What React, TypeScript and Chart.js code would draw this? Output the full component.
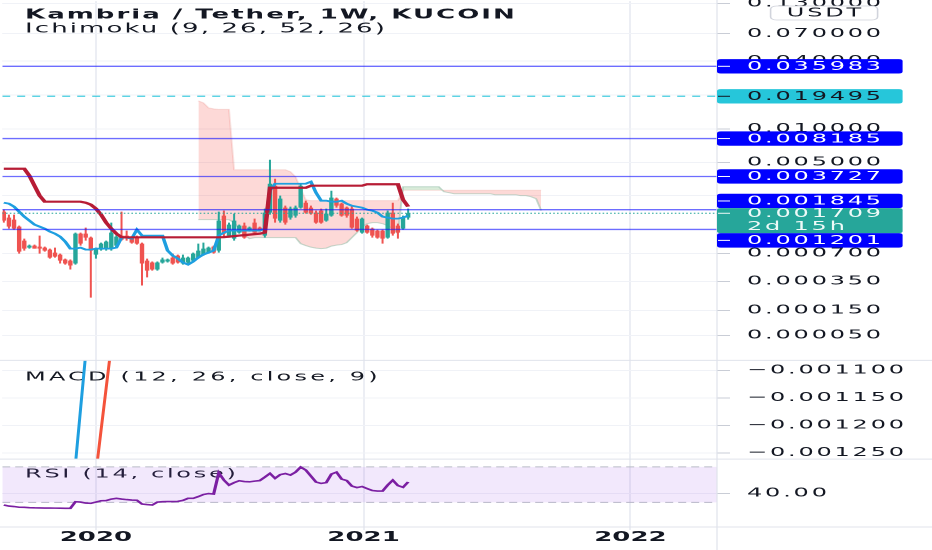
import { useEffect, useRef } from "react";
import { Chart, registerables } from "chart.js";

Chart.register(...registerables);

// TradingView style log axis: log10(price + offset)
const LOG_OFFSET = 0.0001;
const tv = (p: number) => Math.log10(p + LOG_OFFSET);

const FONT = "'DejaVu Sans', sans-serif";
const TEXT = "#131722";
const UP = "#26a69a";
const DOWN = "#ef5350";
const GRID = "#f0f2f7";
const SEPARATOR = "#e0e3eb";
const LEVEL_BLUE = "#0000ff";
const CYAN = "#26c6da";

// weekly bars, x in days since 2020-01-01
const FIRST_BAR_DAY = -126;
const X_MIN = -128.2;
const X_MAX = 849.4;
const dayOf = (i: number) => FIRST_BAR_DAY + i * 7;

const OPEN = [
  0.001769, 0.001555, 0.001489, 0.001278, 0.000937, 0.000799, 0.000837, 0.000818, 0.000799, 0.000763,
  0.000712, 0.00068, 0.000605, 0.00059, 0.00055, 0.001095, 0.001095, 0.001002, 0.00068, 0.000763,
  0.000781, 0.000781, 0.000837, 0.001048, 0.001048, 0.001002, 0.001024, 0.000875, 0.00059, 0.000563,
  0.000475, 0.000563, 0.000577, 0.000634, 0.000664, 0.00055, 0.000563, 0.00059, 0.000634, 0.00068,
  0.000712, 0.000818, 0.000746, 0.001623, 0.001048, 0.00098, 0.00112, 0.001306, 0.00117, 0.001395,
  0.00125, 0.001048, 0.001732, 0.003071, 0.001457, 0.001928, 0.001555, 0.001623, 0.001928, 0.002144,
  0.001928, 0.001732, 0.001808, 0.001457, 0.001623, 0.002335, 0.002099, 0.001928, 0.001887, 0.001521,
  0.00112, 0.001306, 0.001223, 0.00117, 0.00117, 0.001002, 0.001732, 0.001306, 0.001223, 0.001555,
];
const HIGH = [
  0.001847, 0.001659, 0.001659, 0.001306, 0.00098, 0.000856, 0.000856, 0.001048, 0.000818, 0.000781,
  0.000799, 0.000696, 0.000619, 0.000605, 0.00112, 0.00112, 0.00125, 0.001024, 0.000799, 0.000895,
  0.000937, 0.001395, 0.001071, 0.001769, 0.00117, 0.001024, 0.001048, 0.000895, 0.000619, 0.000577,
  0.000577, 0.000634, 0.000619, 0.000696, 0.00068, 0.00068, 0.000649, 0.000712, 0.000875, 0.000895,
  0.000818, 0.000837, 0.001769, 0.001808, 0.001395, 0.001695, 0.001335, 0.001395, 0.001278, 0.001521,
  0.001278, 0.001887, 0.005279, 0.003555, 0.002488, 0.002012, 0.001969, 0.002012, 0.003202, 0.002238,
  0.002012, 0.001808, 0.001887, 0.001887, 0.002765, 0.002385, 0.002144, 0.001969, 0.002012, 0.001589,
  0.001555, 0.001335, 0.00125, 0.001196, 0.001196, 0.001808, 0.002144, 0.001365, 0.001623, 0.001887,
];
const LOW = [
  0.001395, 0.001223, 0.001196, 0.000696, 0.000746, 0.000781, 0.000781, 0.000696, 0.000729, 0.000619,
  0.000634, 0.00055, 0.000536, 0.000475, 0.000536, 0.000837, 0.000937, 0.000225, 0.000619, 0.000746,
  0.000746, 0.000746, 0.000818, 0.000937, 0.000937, 0.000875, 0.000856, 0.000316, 0.00039, 0.000463,
  0.000463, 0.00055, 0.000563, 0.000536, 0.00055, 0.000536, 0.00055, 0.000577, 0.000619, 0.000664,
  0.000696, 0.000696, 0.000712, 0.001002, 0.001002, 0.000937, 0.001095, 0.00098, 0.001145, 0.001095,
  0.001145, 0.001002, 0.001659, 0.001395, 0.001395, 0.001335, 0.001489, 0.001555, 0.001887, 0.001695,
  0.001659, 0.001365, 0.001365, 0.001425, 0.001589, 0.001928, 0.001589, 0.001555, 0.001223, 0.001145,
  0.001095, 0.001095, 0.001002, 0.00098, 0.000875, 0.00098, 0.001048, 0.00098, 0.001196, 0.001489,
];
const CLOSE = [
  0.001457, 0.001278, 0.001223, 0.000729, 0.000781, 0.000837, 0.000781, 0.000781, 0.000746, 0.000634,
  0.000649, 0.00059, 0.00055, 0.000524, 0.001095, 0.000875, 0.001002, 0.000746, 0.000781, 0.000875,
  0.000916, 0.00112, 0.001024, 0.000958, 0.00098, 0.000895, 0.000875, 0.00055, 0.000463, 0.000475,
  0.000563, 0.000605, 0.000605, 0.00055, 0.000563, 0.000634, 0.000634, 0.000696, 0.000746, 0.000781,
  0.000799, 0.000712, 0.001457, 0.001095, 0.001335, 0.001457, 0.001306, 0.001002, 0.00125, 0.00112,
  0.00117, 0.001732, 0.003202, 0.001521, 0.002335, 0.001395, 0.001887, 0.001928, 0.003071, 0.001732,
  0.001695, 0.001395, 0.001395, 0.001695, 0.002385, 0.002012, 0.001623, 0.001623, 0.00125, 0.00117,
  0.001521, 0.00112, 0.001048, 0.001002, 0.00098, 0.001732, 0.001095, 0.00112, 0.001555, 0.001709,
];

// Ichimoku
const TENKAN = [
  0.002144, 0.002099, 0.001969, 0.001769, 0.001589, 0.001457, 0.001335, 0.001278, 0.001223, 0.001145,
  0.001095, 0.001024, 0.000916, 0.000781, 0.000781, 0.000799, 0.000763, 0.000763, 0.000781, 0.000781,
  0.000781, 0.000781, 0.000799, 0.001002, 0.001002, 0.00098, 0.001196, 0.001048, 0.001048, 0.001048,
  0.001048, 0.001048, 0.000746, 0.000664, 0.000619, 0.000563, 0.000536, 0.000577, 0.000634, 0.00068,
  0.000712, 0.000746, 0.001048, 0.00112, 0.00117, 0.00117, 0.00117, 0.00117, 0.00117, 0.00117,
  0.00117, 0.001223, 0.002765, 0.003202, 0.003202, 0.003202, 0.003202, 0.003202, 0.003202, 0.003202,
  0.003339, 0.00265, 0.002238, 0.002238, 0.002191, 0.002191, 0.002238, 0.002099, 0.002012, 0.001969,
  0.001928, 0.001847, 0.001808, 0.001732, 0.001589, 0.001555, 0.001521, 0.001521, 0.001555, 0.001623,
];
const KIJUN = [
  0.00438, 0.00438, 0.00438, 0.00438, 0.00438, 0.003786, 0.003071, 0.002488, 0.002191, 0.002191,
  0.002191, 0.002191, 0.002191, 0.002191, 0.002191, 0.002191, 0.002144, 0.002055, 0.001887, 0.001659,
  0.001395, 0.001223, 0.001095, 0.001013, 0.001009, 0.001009, 0.001009, 0.001009, 0.001009, 0.001009,
  0.001009, 0.001009, 0.001009, 0.001009, 0.001009, 0.001009, 0.001009, 0.001009, 0.001009, 0.001009,
  0.001009, 0.001009, 0.001009, 0.001013, 0.001024, 0.001036, 0.001048, 0.001059, 0.001071, 0.001083,
  0.001095, 0.00112, 0.002944, 0.002944, 0.002944, 0.002944, 0.002944, 0.002944, 0.002944, 0.002944,
  0.003071, 0.003071, 0.003071, 0.003071, 0.003071, 0.003071, 0.003071, 0.003071, 0.003071, 0.003071,
  0.003071, 0.003169, 0.003169, 0.003169, 0.003169, 0.003169, 0.003169, 0.003169, 0.002286, 0.001969,
];
// leading spans, shifted 26 bars ahead; first value sits on bar 38
const SPAN_START = 38;
const SPAN_A = [
  0.001489, 0.001489, 0.001489, 0.001489, 0.001489, 0.001489, 0.001489, 0.001395, 0.001223, 0.001071,
  0.00098, 0.001002, 0.001002, 0.001002, 0.001002, 0.001002, 0.001002, 0.001002, 0.001002, 0.001002,
  0.000875, 0.000837, 0.000808, 0.00079, 0.000781, 0.00079, 0.000827, 0.000846, 0.000856, 0.000895,
  0.001002, 0.00112, 0.001278, 0.001365, 0.001395, 0.001395, 0.001365, 0.001306, 0.001223, 0.001095,
  0.003007, 0.003007, 0.003007, 0.003007, 0.003007, 0.003007, 0.003007, 0.003007, 0.002707, 0.00265,
  0.002595, 0.002595, 0.002595, 0.002595, 0.002595, 0.002595, 0.002595, 0.002595, 0.002541, 0.002541,
  0.002541, 0.002541, 0.002541, 0.002488, 0.002488, 0.002436, 0.002335, 0.001808,
];
const SPAN_B = [
  0.017743, 0.017033, 0.015377, 0.015065, 0.014912, 0.014912, 0.014912, 0.004289, 0.004289, 0.004289,
  0.004289, 0.004289, 0.004289, 0.004289, 0.004289, 0.004289, 0.004289, 0.004289, 0.004115, 0.003707,
  0.002883, 0.002286, 0.002238, 0.002238, 0.002238, 0.002238, 0.002238, 0.002238, 0.002238, 0.002238,
  0.002238, 0.002238, 0.002238, 0.002238, 0.002238, 0.002238, 0.002238, 0.002238, 0.002238, 0.002238,
  0.002794, 0.002794, 0.002794, 0.002794, 0.002794, 0.002794, 0.002794, 0.002794, 0.002794, 0.002794,
  0.002794, 0.002794, 0.002794, 0.002794, 0.002794, 0.002794, 0.002794, 0.002794, 0.002794, 0.002794,
  0.002794, 0.002794, 0.002794, 0.002794, 0.002794, 0.002794, 0.002794, 0.002794,
];

// MACD pane: only the stretch that crosses the visible range
const MACD_START = 11;
const MACD = [-0.00155, -0.00146, -0.00137, -0.00127, -0.00117, -0.00107, -0.00097, -0.00088, -0.0008];
const SIGNAL_START = 16;
const SIGNAL = [-0.00145, -0.00137, -0.001287, -0.001209, -0.001132, -0.001055, -0.00098, -0.00091];

const RSI = [
  27.0, 25.8, 25.3, 24.5, 24.4, 24.0, 23.8, 23.7, 23.6, 23.6,
  23.5, 23.4, 23.3, 23.3, 30.7, 30.3, 29.2, 28.9, 30.3, 31.8,
  32.0, 33.7, 34.5, 33.7, 33.1, 32.6, 32.4, 28.1, 27.5, 27.0,
  30.3, 30.7, 30.9, 30.9, 31.1, 32.2, 34.5, 34.5, 36.5, 38.8,
  39.9, 39.3, 63.3, 55.1, 49.4, 52.2, 54.3, 53.4, 53.1, 53.9,
  54.5, 58.4, 62.6, 57.0, 61.2, 62.4, 60.7, 64.0, 69.7, 66.3,
  59.6, 52.8, 51.3, 52.2, 61.8, 64.0, 56.2, 54.5, 48.3, 46.6,
  47.8, 45.5, 43.3, 42.7, 42.7, 49.4, 55.0, 48.9, 46.9, 53.0,
];
const RSI_UPPER = 70;
const RSI_LOWER = 30;

// drawn price levels
const LEVELS = [0.035983, 0.008185, 0.003727, 0.001845, 0.001201];
const DASHED_LEVEL = 0.019495;
const LAST_PRICE = 0.001709;
const COUNTDOWN = "2d 15h";

// axes
const PRICE_TICKS = [0.13, 0.07, 0.04, 0.02, 0.01, 0.005, 0.0025, 0.0007, 0.00035, 0.00015, 0.00005];
const PRICE_TICK_LABELS = ["0.130000", "0.070000", "0.040000", "", "0.010000", "0.005000", "", "0.000700", "0.000350", "0.000150", "0.000050"];
const MACD_TICKS = [-0.0011, -0.00115, -0.0012, -0.00125];
const RSI_TICKS = [40];
const YEAR_TICKS = [0, 366, 731];
const YEAR_LABELS = ["2020", "2021", "2022"];

const TITLE = "Kambria / Tether, 1W, KUCOIN";
const ICHI_LABEL = "Ichimoku (9, 26, 52, 26)";
const MACD_LABEL = "MACD (12, 26, close, 9)";
const RSI_LABEL = "RSI (14, close)";

const AXIS_W = 107.5;
const TAG_W = 92.8;
const TAG_H = 14.4;
const LABEL_X = 373.5;

const spacing = (ctx: any, px: number) => {
  ctx.letterSpacing = `${px}px`;
};

const spacedLabels = {
  id: "spacedLabels",
  afterLayout(chart: any) {
    for (const id of ["yMain", "yMacd", "yRsi"]) {
      const s = chart.scales[id];
      if (!s || s._spaced) continue;
      const orig = s.drawLabels.bind(s);
      s.drawLabels = (area: any) => {
        s.ctx.save();
        spacing(s.ctx, 1.4);
        orig(area);
        s.ctx.restore();
      };
      s._spaced = true;
    }
  },
};

const paneClip = {
  id: "paneClip",
  beforeDatasetDraw(chart: any, args: any) {
    const y = chart.scales[args.meta.yAxisID];
    const { ctx, chartArea } = chart;
    ctx.save();
    ctx.beginPath();
    ctx.rect(chartArea.left, y.top, chartArea.right - chartArea.left, y.bottom - y.top);
    ctx.clip();
  },
  afterDatasetDraw(chart: any) {
    chart.ctx.restore();
  },
};

const paneLabels = {
  id: "paneLabels",
  beforeDatasetsDraw(chart: any) {
    const { ctx } = chart;
    const macd = chart.scales.yMacd;
    const rsi = chart.scales.yRsi;
    ctx.save();
    ctx.fillStyle = TEXT;
    ctx.textBaseline = "alphabetic";
    ctx.textAlign = "left";
    ctx.font = `bold 13px ${FONT}`;
    spacing(ctx, 1.0);
    ctx.fillText(TITLE, 12.5, 18.3);
    ctx.font = `13px ${FONT}`;
    spacing(ctx, 1.05);
    ctx.fillText(ICHI_LABEL, 12.5, 32.3);
    ctx.font = `12px ${FONT}`;
    spacing(ctx, 1.6);
    ctx.fillText(MACD_LABEL, 12.5, macd.top + 20);
    spacing(ctx, 1.35);
    ctx.fillText(RSI_LABEL, 12.5, rsi.top + 18.3);
    ctx.restore();
  },
};

const axisTags = {
  id: "axisTags",
  afterDraw(chart: any) {
    const { ctx, chartArea, width, height } = chart;
    const yMain = chart.scales.yMain;
    const panes = [chart.scales.yMain, chart.scales.yMacd, chart.scales.yRsi];
    ctx.save();

    // pane separators and price axis line
    ctx.strokeStyle = SEPARATOR;
    ctx.lineWidth = 1;
    ctx.beginPath();
    for (const p of panes) {
      ctx.moveTo(0, p.bottom);
      ctx.lineTo(width, p.bottom);
    }
    ctx.stroke();
    ctx.lineWidth = 0.6;
    ctx.beginPath();
    ctx.moveTo(chartArea.right, 0);
    ctx.lineTo(chartArea.right, height);
    ctx.stroke();

    // currency button
    ctx.fillStyle = "#ffffff";
    ctx.strokeStyle = "#d1d4dc";
    ctx.lineWidth = 0.8;
    ctx.beginPath();
    ctx.roundRect(385.3, 6, 53.5, 14, 3);
    ctx.fill();
    ctx.stroke();
    ctx.fillStyle = TEXT;
    ctx.font = `12px ${FONT}`;
    ctx.textBaseline = "middle";
    ctx.textAlign = "center";
    spacing(ctx, 1.4);
    ctx.fillText("USDT", 412.7, 13.5);
    ctx.textAlign = "left";

    const x0 = chartArea.right;
    const lastY = yMain.getPixelForValue(tv(LAST_PRICE));
    const curTop = lastY - 5.1;
    const curBottom = curTop + 25;

    const items = [
      ...LEVELS.map((p) => ({ price: p, bg: LEVEL_BLUE, fg: "#ffffff" })),
      { price: DASHED_LEVEL, bg: CYAN, fg: TEXT },
    ]
      .map((t) => ({ ...t, y: yMain.getPixelForValue(tv(t.price)) }))
      .sort((a, b) => a.y - b.y);

    let limit = curTop;
    for (const t of items.filter((t) => t.y <= lastY).reverse()) {
      t.y = Math.min(t.y, limit - TAG_H / 2);
      limit = t.y - TAG_H / 2;
    }
    limit = curBottom;
    for (const t of items.filter((t) => t.y > lastY)) {
      t.y = Math.max(t.y, limit + TAG_H / 2);
      limit = t.y + TAG_H / 2;
    }

    const drawTag = (top: number, h: number, markY: number, bg: string, fg: string, lines: string[]) => {
      ctx.fillStyle = bg;
      ctx.beginPath();
      ctx.roundRect(x0, top, TAG_W, h, 2);
      ctx.fill();
      ctx.strokeStyle = fg;
      ctx.lineWidth = 1;
      ctx.beginPath();
      ctx.moveTo(x0 + 0.5, markY);
      ctx.lineTo(x0 + 6.5, markY);
      ctx.stroke();
      ctx.fillStyle = fg;
      lines.forEach((s, k) => ctx.fillText(s, LABEL_X, markY + 0.6 + k * 13));
    };

    for (const t of items) {
      drawTag(t.y - TAG_H / 2, TAG_H, t.y, t.bg, t.fg, [t.price.toFixed(6)]);
    }
    drawTag(curTop, curBottom - curTop, lastY, UP, "#eefaf8", [LAST_PRICE.toFixed(6), COUNTDOWN]);

    ctx.restore();
  },
};

const flat = (price: number) => [
  { x: X_MIN, y: tv(price) },
  { x: X_MAX, y: tv(price) },
];

export default function App() {
  const canvasRef = useRef<HTMLCanvasElement | null>(null);
  const chartRef = useRef<Chart | null>(null);

  useEffect(() => {
    if (!canvasRef.current) return;
    if (chartRef.current) chartRef.current.destroy();

    Chart.defaults.font.family = FONT;

    const candleColors = OPEN.map((o, i) => (CLOSE[i] >= o ? UP : DOWN));
    const line = (extra: any) => ({
      type: "line",
      pointRadius: 0,
      tension: 0,
      fill: false,
      ...extra,
    });

    const datasets: any[] = [
      ...LEVELS.map((p) =>
        line({ data: flat(p), borderColor: "rgba(20,20,255,0.62)", borderWidth: 1.3, yAxisID: "yMain", order: 0 })
      ),
      line({ data: flat(DASHED_LEVEL), borderColor: "rgba(38,198,218,0.85)", borderWidth: 1.2, borderDash: [4, 3.5], yAxisID: "yMain", order: 0 }),
      line({ data: flat(LAST_PRICE), borderColor: UP, borderWidth: 1, borderDash: [0.8, 1.1], yAxisID: "yMain", order: 1 }),
      line({
        data: KIJUN.map((v, i) => ({ x: dayOf(i), y: tv(v) })),
        borderColor: "#b71c35",
        borderWidth: 2.2,
        yAxisID: "yMain",
        order: 2,
      }),
      line({
        data: TENKAN.map((v, i) => ({ x: dayOf(i), y: tv(v) })),
        borderColor: "#1e9fe0",
        borderWidth: 1.8,
        yAxisID: "yMain",
        order: 3,
      }),
      {
        type: "bar",
        data: OPEN.map((o, i) => ({ x: dayOf(i), y: [tv(o), tv(CLOSE[i])] })),
        backgroundColor: candleColors,
        barThickness: 2.2,
        minBarLength: 1,
        grouped: false,
        inflateAmount: 0,
        borderWidth: 0,
        yAxisID: "yMain",
        order: 4,
      },
      {
        type: "bar",
        data: LOW.map((l, i) => ({ x: dayOf(i), y: [tv(l), tv(HIGH[i])] })),
        backgroundColor: candleColors,
        barThickness: 1,
        grouped: false,
        inflateAmount: 0,
        borderWidth: 0,
        yAxisID: "yMain",
        order: 5,
      },
      line({
        data: SPAN_A.map((v, k) => ({ x: dayOf(SPAN_START + k), y: tv(v) })),
        borderColor: "rgba(150,190,170,0.55)",
        borderWidth: 1,
        fill: { target: "+1", above: "rgba(67,160,71,0.2)", below: "rgba(244,67,54,0.2)" },
        yAxisID: "yMain",
        order: 6,
      }),
      line({
        data: SPAN_B.map((v, k) => ({ x: dayOf(SPAN_START + k), y: tv(v) })),
        borderColor: "rgba(244,143,143,0.25)",
        borderWidth: 1,
        yAxisID: "yMain",
        order: 7,
      }),
      line({
        data: MACD.map((v, k) => ({ x: dayOf(MACD_START + k), y: v })),
        borderColor: "#1e9fe0",
        borderWidth: 1.5,
        yAxisID: "yMacd",
        order: 2,
      }),
      line({
        data: SIGNAL.map((v, k) => ({ x: dayOf(SIGNAL_START + k), y: v })),
        borderColor: "#f4533b",
        borderWidth: 1.5,
        yAxisID: "yMacd",
        order: 2,
      }),
      line({
        data: RSI.map((v, i) => ({ x: dayOf(i), y: v })),
        borderColor: "#7b1fa2",
        borderWidth: 1.6,
        yAxisID: "yRsi",
        order: 2,
      }),
      line({
        data: [
          { x: X_MIN, y: RSI_UPPER },
          { x: X_MAX, y: RSI_UPPER },
        ],
        borderColor: "#b9bcc6",
        borderWidth: 1,
        borderDash: [4, 2.5],
        backgroundColor: "rgba(155,80,230,0.13)",
        fill: "+1",
        yAxisID: "yRsi",
        order: 8,
      }),
      line({
        data: [
          { x: X_MIN, y: RSI_LOWER },
          { x: X_MAX, y: RSI_LOWER },
        ],
        borderColor: "#b9bcc6",
        borderWidth: 1,
        borderDash: [4, 2.5],
        yAxisID: "yRsi",
        order: 8,
      }),
    ];

    const tickFont = { family: FONT, size: 12 };
    const yAxis = (extra: any) => ({
      type: "linear",
      position: "right",
      stack: "panes",
      offset: false,
      beginAtZero: false,
      grid: { color: GRID, tickLength: 6.5, tickColor: "#c9cdd6" },
      border: { display: false },
      afterFit: (s: any) => {
        s.width = AXIS_W;
        s.paddingTop = 0;
        s.paddingBottom = 0;
      },
      ...extra,
      ticks: { font: tickFont, color: TEXT, padding: 8.5, autoSkip: false, crossAlign: "near", ...extra.ticks },
    });

    chartRef.current = new Chart(canvasRef.current, {
      type: "line",
      data: { datasets },
      options: {
        animation: false,
        responsive: true,
        maintainAspectRatio: false,
        devicePixelRatio: 2,
        events: [],
        layout: { padding: 0 },
        plugins: { legend: { display: false }, tooltip: { enabled: false } },
        scales: {
          x: {
            type: "linear",
            position: "bottom",
            min: X_MIN,
            max: X_MAX,
            offset: false,
            grid: { color: "#eceef4", drawTicks: true, tickLength: 3, offset: false },
            border: { display: false },
            ticks: {
              font: { family: FONT, size: 13, weight: "bold" },
              color: TEXT,
              padding: 0,
              autoSkip: false,
              maxRotation: 0,
              callback: (v: any) => YEAR_LABELS[YEAR_TICKS.indexOf(v)] ?? "",
            },
            afterBuildTicks: (s: any) => {
              s.ticks = YEAR_TICKS.map((v) => ({ value: v }));
            },
            afterFit: (s: any) => {
              s.height = 23;
              s.paddingLeft = 0;
              s.paddingRight = 0;
            },
          },
          yMain: yAxis({
            stackWeight: 360,
            weight: 1,
            min: -4.0434,
            max: -0.866,
            afterBuildTicks: (s: any) => {
              s.ticks = PRICE_TICKS.map((p) => ({ value: tv(p) }));
            },
            ticks: { callback: (_v: any, i: number) => PRICE_TICK_LABELS[i] },
          }),
          yMacd: yAxis({
            stackWeight: 99,
            weight: 2,
            min: -0.0012615,
            max: -0.0010818,
            afterBuildTicks: (s: any) => {
              s.ticks = MACD_TICKS.map((v) => ({ value: v }));
            },
            ticks: { callback: (v: any) => "\u2212" + Math.abs(v).toFixed(6) },
          }),
          yRsi: yAxis({
            stackWeight: 68,
            weight: 3,
            min: 2.25,
            max: 78.65,
            afterBuildTicks: (s: any) => {
              s.ticks = RSI_TICKS.map((v) => ({ value: v }));
            },
            ticks: { callback: (v: any) => Number(v).toFixed(2) },
          }),
        },
      } as any,
      plugins: [spacedLabels, paneClip, paneLabels, axisTags],
    } as any);

    return () => {
      chartRef.current?.destroy();
      chartRef.current = null;
    };
  }, []);

  return (
    <div
      style={{
        position: "absolute",
        left: 0,
        top: 0,
        width: 466,
        height: 550,
        background: "#ffffff",
        transform: "scaleX(2)",
        transformOrigin: "0 0",
      }}
    >
      <canvas ref={canvasRef} />
    </div>
  );
}
